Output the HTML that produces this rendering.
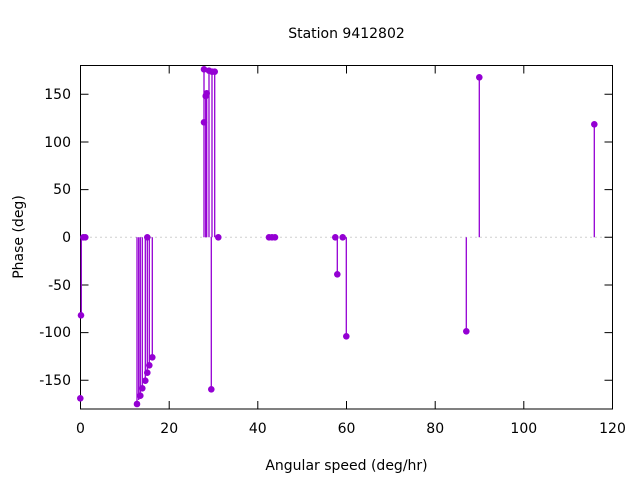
<!DOCTYPE html>
<html><head><meta charset="utf-8"><style>body{margin:0;background:#fff}</style></head><body>
<svg width="640" height="480" xmlns="http://www.w3.org/2000/svg" font-family="DejaVu Sans, sans-serif" font-size="14">
<rect width="640" height="480" fill="#fff"/>
<line x1="80.5" y1="237.3" x2="612.5" y2="237.3" stroke="#a0a0a0" stroke-dasharray="1,4" stroke-width="1"/>
<g stroke="#000" stroke-width="1">
<rect x="80.5" y="65.5" width="532" height="343.5" fill="none"/>
<path d="M80.5 94.3h8M80.5 142h8M80.5 189.6h8M80.5 237.3h8M80.5 285h8M80.5 332.6h8M80.5 380.3h8
M612.5 94.3h-8M612.5 142h-8M612.5 189.6h-8M612.5 237.3h-8M612.5 285h-8M612.5 332.6h-8M612.5 380.3h-8
M80.5 409v-8M169.2 409v-8M257.8 409v-8M346.5 409v-8M435.2 409v-8M523.8 409v-8M612.5 409v-8
M80.5 65.5v8M169.2 65.5v8M257.8 65.5v8M346.5 65.5v8M435.2 65.5v8M523.8 65.5v8M612.5 65.5v8"/>
</g>
<g text-anchor="end" fill="#000">
<text x="71" y="99">150</text><text x="71" y="147">100</text><text x="71" y="194">50</text><text x="71" y="242">0</text><text x="71" y="290">-50</text><text x="71" y="337">-100</text><text x="71" y="385">-150</text>
</g>
<g text-anchor="middle" fill="#000">
<text x="80.5" y="433">0</text><text x="169.2" y="433">20</text><text x="257.8" y="433">40</text><text x="346.5" y="433">60</text><text x="435.2" y="433">80</text><text x="523.8" y="433">100</text><text x="612.5" y="433">120</text>
<text x="346.5" y="38">Station 9412802</text>
<text x="346.5" y="470">Angular speed (deg/hr)</text>
<text transform="translate(23,237) rotate(-90)">Phase (deg)</text>
</g>
<g stroke="#9400D3" stroke-width="1.3">
<path d="M81.3 237.3V315.3M137 237.3V404M138.7 237.3V400M140.3 237.3V395.7M142.3 237.3V388.3M145.3 237.3V380.7M147.3 237.3V372.7M149.3 237.3V365.3M152.3 237.3V357.3
M204 237.3V69.3M209 237.3V70.7M212 237.3V71.7M214.7 237.3V71.7M206.7 237.3V93.3M205.7 237.3V96M204 237.3V122.3M211.3 237.3V389.3
M337.3 237.3V274.3M346.3 237.3V336.3M466.3 237.3V331.3M479.3 237.3V77.3M594.3 237.3V124.3"/>
</g>
<g fill="#9400D3">
<circle cx="81" cy="315.3" r="3.3"/><circle cx="80.3" cy="398.3" r="3.3"/><circle cx="83.3" cy="237.3" r="3.3"/><circle cx="85.3" cy="237.3" r="3.3"/>
<circle cx="137" cy="404" r="3.3"/><circle cx="140.3" cy="395.7" r="3.3"/><circle cx="142.3" cy="388.3" r="3.3"/><circle cx="145.3" cy="380.7" r="3.3"/><circle cx="147.3" cy="372.7" r="3.3"/><circle cx="149.3" cy="365.3" r="3.3"/><circle cx="152.3" cy="357.3" r="3.3"/><circle cx="147.3" cy="237.3" r="3.3"/>
<circle cx="204" cy="69.3" r="3.3"/><circle cx="209" cy="70.7" r="3.3"/><circle cx="212" cy="71.7" r="3.3"/><circle cx="214.7" cy="71.7" r="3.3"/><circle cx="206.7" cy="93.3" r="3.3"/><circle cx="205.7" cy="96" r="3.3"/><circle cx="204" cy="122.3" r="3.3"/><circle cx="211.3" cy="389.3" r="3.3"/><circle cx="218.3" cy="237.3" r="3.3"/>
<circle cx="269" cy="237.3" r="3.3"/><circle cx="272" cy="237.3" r="3.3"/><circle cx="275" cy="237.3" r="3.3"/>
<circle cx="335.3" cy="237.3" r="3.3"/><circle cx="337.3" cy="274.3" r="3.3"/><circle cx="342.7" cy="237.3" r="3.3"/><circle cx="346.3" cy="336.3" r="3.3"/>
<circle cx="466.3" cy="331.3" r="3.3"/><circle cx="479.3" cy="77.3" r="3.3"/><circle cx="594.3" cy="124.3" r="3.3"/>
</g>
</svg>
</body></html>
